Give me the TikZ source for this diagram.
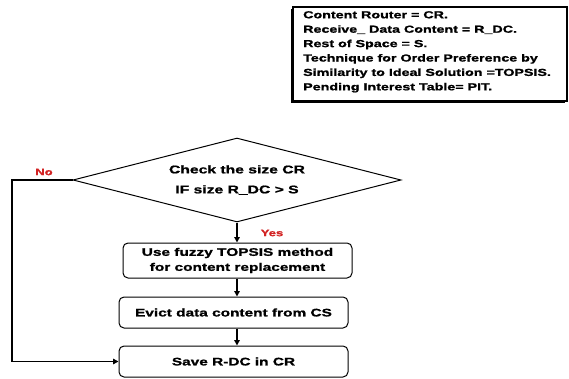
\documentclass[tikz,border=0pt]{standalone}
\usepackage{fontspec}
\setmainfont{Liberation Sans}[FakeStretch=1.4,BoldFeatures={FakeBold=1.2}]
\usetikzlibrary{shapes.geometric,arrows.meta}
\definecolor{labelred}{RGB}{210,35,35}
\begin{document}
\begin{tikzpicture}[x=1pt,y=-1pt,
  every node/.style={font=\bfseries},
  stepbox/.style={draw,line width=1pt,rounded corners=5pt,minimum width=229pt,inner sep=0pt,align=center,
    font=\fontsize{11}{15}\selectfont\bfseries},
  decision/.style={draw,diamond,line width=1pt,minimum width=328pt,minimum height=84pt,inner sep=0pt,
    aspect=3.9,align=center,font=\fontsize{11.2}{20}\selectfont\bfseries},
  flow/.style={line width=1.6pt,-{Triangle[length=5.5pt,width=5.5pt]}},
  answer/.style={text=labelred,font=\fontsize{9.3}{11}\selectfont\bfseries,inner sep=0pt}]
\useasboundingbox (0,0) rectangle (569,379);

% abbreviations box with shadow
\fill (290.5,9.5) rectangle (565,103.5);
\draw[line width=1.4pt,fill=white] (293,7) rectangle (567,101);
\node[anchor=north west,align=left,inner sep=0pt,font=\fontsize{10.2}{14.4}\selectfont\bfseries] (legend) at (303,11)
  {Content Router = CR.\\
   Receive\_ Data Content = R\_DC.\\
   Rest of Space = S.\\
   Technique for Order Preference by\\
   Similarity to Ideal Solution =TOPSIS.\\
   Pending Interest Table= PIT.};

% flowchart
\node[decision] (check) at (237,180) {Check the size CR\\IF size R\_DC > S};
\node[stepbox,minimum height=35pt] (fuzzy) at (237.5,260.5) {Use fuzzy TOPSIS method\\for content replacement};
\node[stepbox,minimum height=31pt] (evict) at (233.5,312.5) {Evict data content from CS};
\node[stepbox,minimum height=31pt] (save) at (233.5,361.5) {Save R-DC in CR};

\node[answer] (no) at (44,172) {No};
\node[answer] (yes) at (272,233) {Yes};

\coordinate (loop) at (12,180);
\draw[flow] (check.south) -- (fuzzy.north -| check.south);
\draw[flow] (fuzzy.south -| check.south) -- (evict.north -| check.south);
\draw[flow] (evict.south -| check.south) -- (save.north -| check.south);
\draw[flow] (check.west) -- (loop) |- (save.west);
\end{tikzpicture}
\end{document}
